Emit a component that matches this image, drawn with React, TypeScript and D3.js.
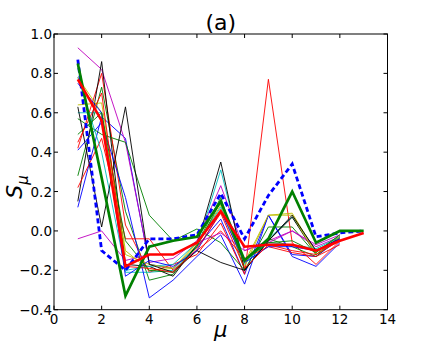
import React from 'react'
import * as d3 from 'd3'

// mu positions
const muThin = [1, 2, 3, 4, 5, 6, 7, 8, 9, 10, 11, 12]
const muThick = [1, 2, 3, 4, 5, 6, 7, 8, 9, 10, 11, 12, 13]

// thin runs, colour cycle b g r c m y k
const thinColors = ['b', 'g', 'r', 'c', 'm', 'y', 'k', 'b', 'g', 'r', 'c', 'm', 'y', 'k', 'b', 'g', 'r']
const thinRuns = [
    [0.12, 0.58, 0.47, -0.17, -0.19, -0.08, 0.06, -0.22, 0.08, -0.12, -0.13, -0.04],
    [0.28, 0.73, 0.10, -0.25, -0.22, -0.07, 0.17, -0.20, 0.02, 0.02, -0.12, -0.03],
    [0.42, 0.80, 0.03, -0.21, -0.17, -0.12, 0.04, -0.22, 0.77, -0.06, -0.17, -0.05],
    [0.60, 0.60, -0.21, -0.21, -0.20, -0.08, 0.31, -0.17, -0.04, 0.07, -0.10, -0.03],
    [0.93, 0.82, 0.45, -0.16, -0.14, -0.05, 0.23, -0.10, -0.05, 0.00, -0.08, -0.03],
    [0.64, 0.65, -0.10, -0.20, -0.19, -0.06, 0.13, -0.18, 0.08, 0.09, -0.11, -0.02],
    [0.15, 0.86, -0.17, -0.18, -0.23, -0.07, 0.35, -0.20, -0.05, 0.07, -0.12, -0.03],
    [0.41, 0.55, 0.17, -0.34, -0.25, -0.13, -0.02, -0.27, 0.08, -0.13, -0.18, -0.06],
    [0.57, 0.49, 0.45, 0.08, -0.05, 0.01, -0.06, -0.20, -0.04, -0.08, -0.13, -0.03],
    [0.22, 0.47, -0.04, -0.04, -0.20, -0.10, 0.00, -0.14, -0.08, -0.11, -0.13, -0.07],
    [0.78, 0.40, -0.20, -0.18, -0.17, -0.06, 0.12, -0.15, -0.06, -0.07, -0.09, -0.03],
    [-0.04, 0.00, -0.15, -0.12, -0.12, -0.06, -0.01, -0.10, -0.06, 0.00, -0.07, -0.02],
    [0.78, 0.60, -0.12, -0.17, -0.19, -0.07, 0.11, -0.16, 0.08, 0.08, -0.12, -0.03],
    [0.63, 0.02, 0.63, -0.17, -0.21, -0.10, -0.16, -0.20, -0.05, 0.08, -0.10, -0.04],
    [0.75, 0.60, -0.23, -0.15, -0.18, -0.10, 0.10, -0.16, -0.08, -0.08, -0.10, -0.04],
    [0.49, 0.60, -0.05, -0.20, -0.21, -0.08, 0.15, -0.15, -0.06, -0.05, -0.11, -0.02],
    [0.45, 0.70, -0.18, -0.19, -0.21, -0.09, 0.09, -0.19, -0.07, -0.10, -0.12, -0.05],
]

// bold summaries
const greenThick = [0.85, 0.27, -0.33, -0.08, -0.05, -0.03, 0.15, -0.15, -0.04, 0.20, -0.06, 0.00, 0.00]
const redThick = [0.77, 0.56, -0.18, -0.12, -0.12, -0.06, 0.10, -0.08, -0.07, -0.07, -0.10, -0.05, -0.01]
const blueDashed = [0.87, -0.10, -0.20, -0.04, -0.04, -0.02, 0.19, -0.04, 0.18, 0.34, -0.03, -0.01, 0.00]

const xTicks = [0, 2, 4, 6, 8, 10, 12, 14]
const yTicks = [-0.4, -0.2, 0.0, 0.2, 0.4, 0.6, 0.8, 1.0]

const mplColors: Record<string, string> = {
    b: '#0000ff', g: '#008000', r: '#ff0000', c: '#00bfbf',
    m: '#bf00bf', y: '#bfbf00', k: '#000000',
}

const W = 431, H = 345
const left = 54, right = 387.5, top = 34, bottom = 309.7
const font = 'DejaVu Sans, sans-serif'

export default function App() {
    const x = d3.scaleLinear().domain([0, 14]).range([left, right])
    const y = d3.scaleLinear().domain([-0.4, 1.0]).range([bottom, top])

    const line = (xs: number[]) => d3.line<number>()
        .x((_, i) => x(xs[i]))
        .y(d => y(d))

    const fmt = (v: number) => {
        const s = Math.abs(v).toFixed(1)
        return v < -1e-9 ? '\u2212' + s : s
    }

    return (
        <svg width={W} height={H} style={{position: 'absolute', left: 0, top: 0, background: '#fff'}}>
            <rect x={0} y={0} width={W} height={H} fill="#fff" />
            <g>
                {thinRuns.map((run, i) => (
                    <path key={i} d={line(muThin)(run) || ''} fill="none"
                        stroke={mplColors[thinColors[i]]} strokeWidth={1} strokeOpacity={0.9} />
                ))}
                <path d={line(muThick)(blueDashed) || ''} fill="none" stroke="#0000ff"
                    strokeWidth={2.8} strokeDasharray="5,3" />
                <path d={line(muThick)(greenThick) || ''} fill="none" stroke="#008000"
                    strokeWidth={2.7} />
                <path d={line(muThick)(redThick) || ''} fill="none" stroke="#ff0000"
                    strokeWidth={2.6} />
            </g>

            {/* frame */}
            <rect x={left} y={top} width={right - left} height={bottom - top}
                fill="none" stroke="#000" strokeWidth={1} />

            {xTicks.map(t => (
                <g key={'x' + t}>
                    <line x1={x(t)} x2={x(t)} y1={bottom} y2={bottom - 4} stroke="#000" />
                    <line x1={x(t)} x2={x(t)} y1={top} y2={top + 4} stroke="#000" />
                    <text x={x(t)} y={323.5} textAnchor="middle" fontFamily={font} fontSize={13.5}>{t}</text>
                </g>
            ))}
            {yTicks.map(t => (
                <g key={'y' + t}>
                    <line x1={left} x2={left + 4} y1={y(t)} y2={y(t)} stroke="#000" />
                    <line x1={right} x2={right - 4} y1={y(t)} y2={y(t)} stroke="#000" />
                    <text x={52} y={y(t) + 5} textAnchor="end" fontFamily={font} fontSize={13.5}>{fmt(t)}</text>
                </g>
            ))}

            <text x={(left + right) / 2} y={30} textAnchor="middle" fontFamily={font} fontSize={22}>(a)</text>
            <text x={(left + right) / 2} y={337} textAnchor="middle" fontFamily={font} fontSize={21}
                fontStyle="italic">μ</text>
            <text transform="translate(22,187) rotate(-90)" textAnchor="middle" fontFamily={font}
                fontSize={22} fontStyle="italic">
                S<tspan dy={6} fontSize={15}>μ</tspan>
            </text>
        </svg>
    )
}
